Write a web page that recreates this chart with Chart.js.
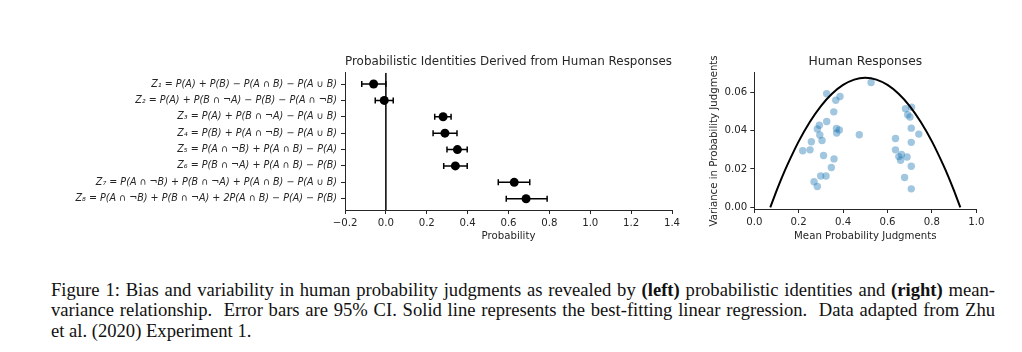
<!DOCTYPE html>
<html>
<head>
<meta charset="utf-8">
<script src="https://cdn.jsdelivr.net/npm/chart.js@4.4.1/dist/chart.umd.min.js"></script>
<style>
  body { margin: 0; background: #fff; width: 1022px; height: 352px; position: relative; overflow: hidden; }
  #left { position: absolute; left: 0; top: 0; }
  #right { position: absolute; left: 690px; top: 0; }
  .caption { position: absolute; left: 51px; top: 279.5px; width: 944px; font-family: "Liberation Serif", serif; font-size: 18.6px; line-height: 20.8px; color: #111; }
  .caption div { white-space: nowrap; }
  .caption .just { text-align: justify; text-align-last: justify; white-space: normal; }
</style>
</head>
<body>
<canvas id="left" width="690" height="246"></canvas>
<canvas id="right" width="332" height="246"></canvas>
<div class="caption">
  <div class="just">Figure 1: Bias and variability in human probability judgments as revealed by <b>(left)</b> probabilistic identities and <b>(right)</b> mean-</div>
  <div class="just">variance relationship. &nbsp;Error bars are 95% CI. Solid line represents the best-fitting linear regression. &nbsp;Data adapted from Zhu</div>
  <div>et al. (2020) Experiment 1.</div>
</div>
<script>
// identities (left panel)
const identityLabels = [
  'Z\u2081 = P(A) + P(B) \u2212 P(A \u2229 B) \u2212 P(A \u222A B)',
  'Z\u2082 = P(A) + P(B \u2229 \u00ACA) \u2212 P(B) \u2212 P(A \u2229 \u00ACB)',
  'Z\u2083 = P(A) + P(B \u2229 \u00ACA) \u2212 P(A \u222A B)',
  'Z\u2084 = P(B) + P(A \u2229 \u00ACB) \u2212 P(A \u222A B)',
  'Z\u2085 = P(A \u2229 \u00ACB) + P(A \u2229 B) \u2212 P(A)',
  'Z\u2086 = P(B \u2229 \u00ACA) + P(A \u2229 B) \u2212 P(B)',
  'Z\u2087 = P(A \u2229 \u00ACB) + P(B \u2229 \u00ACA) + P(A \u2229 B) \u2212 P(A \u222A B)',
  'Z\u2088 = P(A \u2229 \u00ACB) + P(B \u2229 \u00ACA) + 2P(A \u2229 B) \u2212 P(A) \u2212 P(B)'
];
const identityMeans = [-0.06, -0.008, 0.28, 0.289, 0.35, 0.34, 0.628, 0.686];
const ciLow = [-0.118, -0.052, 0.239, 0.231, 0.299, 0.283, 0.55, 0.589];
const ciHigh = [0.0, 0.036, 0.319, 0.348, 0.398, 0.398, 0.704, 0.789];
const probTicks = [-0.2, 0.0, 0.2, 0.4, 0.6, 0.8, 1.0, 1.2, 1.4];

// mean-variance (right panel)
const meanJudgments = [
  0.526, 0.326, 0.386, 0.367, 0.358, 0.326, 0.293, 0.284, 0.370, 0.383,
  0.371, 0.295, 0.305, 0.257, 0.218, 0.251, 0.312, 0.359, 0.347, 0.299,
  0.323, 0.269, 0.284, 0.473,
  0.681, 0.708, 0.691, 0.701, 0.707, 0.741, 0.707, 0.636, 0.636, 0.663,
  0.651, 0.659, 0.688, 0.707, 0.677, 0.707
];
const varianceJudgments = [
  0.0650, 0.0591, 0.0577, 0.0557, 0.0497, 0.0447, 0.0427, 0.0408, 0.0410, 0.0403,
  0.0387, 0.0376, 0.0348, 0.0341, 0.0294, 0.0299, 0.0270, 0.0252, 0.0207, 0.0163,
  0.0163, 0.0133, 0.0108, 0.0378,
  0.0513, 0.0521, 0.0482, 0.0470, 0.0412, 0.0381, 0.0338, 0.0358, 0.0299, 0.0275,
  0.0264, 0.0245, 0.0262, 0.0214, 0.0155, 0.0096
];
const fitMeans = [0.072, 0.1, 0.125, 0.15, 0.2, 0.25, 0.3, 0.35, 0.4, 0.45, 0.5,
  0.55, 0.6, 0.65, 0.7, 0.75, 0.8, 0.85, 0.875, 0.9, 0.928];
const fitVariances = [0.0, 0.0085, 0.0157, 0.0223, 0.0343, 0.0444, 0.0527, 0.0591, 0.0637, 0.0665, 0.0674,
  0.0665, 0.0637, 0.0591, 0.0527, 0.0444, 0.0343, 0.0223, 0.0157, 0.0085, 0.0];
const meanTicks = [0.0, 0.2, 0.4, 0.6, 0.8, 1.0];
const varTicks = [0.00, 0.02, 0.04, 0.06];

const ink = '#262626';
const fam = '"DejaVu Sans", sans-serif';
const minus = s => s.replace('-', '\u2212');

function axisStyle() {
  return {
    grid: { display: true, drawOnChartArea: false, drawTicks: true, tickLength: 4, color: ink, lineWidth: 1 },
    border: { display: true, color: ink, width: 1 }
  };
}

// error bars: one little dataset per row
const errorSets = identityMeans.map((m, i) => ({
  data: [{ x: ciLow[i], y: i }, { x: ciHigh[i], y: i }],
  showLine: true,
  borderColor: '#000',
  borderWidth: 1.5,
  pointStyle: 'line',
  pointRotation: 90,
  pointRadius: 3,
  pointBorderColor: '#000',
  pointBorderWidth: 1.5
}));

new Chart(document.getElementById('left'), {
  type: 'scatter',
  data: {
    datasets: [
      {
        data: identityMeans.map((m, i) => ({ x: m, y: i })),
        backgroundColor: '#000',
        borderColor: '#000',
        pointRadius: 4.5,
        pointBorderWidth: 0
      },
      ...errorSets,
      {
        data: [{ x: 0, y: -0.69 }, { x: 0, y: 7.69 }],
        showLine: true,
        borderColor: '#000',
        borderWidth: 1.5,
        pointRadius: 0
      }
    ]
  },
  options: {
    responsive: false,
    animation: false,
    devicePixelRatio: 1,
    layout: { padding: { top: 54.5, right: 18, bottom: 0, left: 0 } },
    plugins: {
      legend: { display: false },
      tooltip: { enabled: false },
      title: {
        display: true,
        fullSize: false,
        text: 'Probabilistic Identities Derived from Human Responses',
        color: ink,
        font: { family: fam, size: 12.2, weight: 'normal' },
        padding: { top: 0, bottom: 3.6 }
      }
    },
    scales: {
      x: {
        type: 'linear',
        min: -0.2,
        max: 1.4,
        ...axisStyle(),
        afterBuildTicks: s => { s.ticks = probTicks.map(v => ({ value: v })); },
        afterFit: s => { s.height = 36; },
        ticks: {
          color: ink, padding: 3, maxRotation: 0,
          font: { family: fam, size: 10.2 },
          callback: v => minus(v.toFixed(1))
        },
        title: { display: true, text: 'Probability', color: ink, font: { family: fam, size: 10.2 }, padding: { top: 2, bottom: 4 } }
      },
      y: {
        type: 'linear',
        reverse: true,
        min: -0.69,
        max: 7.69,
        ...axisStyle(),
        afterBuildTicks: s => { s.ticks = identityLabels.map((l, i) => ({ value: i })); },
        afterFit: s => { s.width = 345; },
        ticks: {
          color: ink, padding: 4,
          font: { family: fam, size: 9.6, style: 'italic' },
          callback: v => identityLabels[Math.round(v)]
        }
      }
    }
  }
});

new Chart(document.getElementById('right'), {
  type: 'scatter',
  data: {
    datasets: [
      {
        data: fitMeans.map((x, i) => ({ x: x, y: fitVariances[i] })),
        showLine: true,
        borderColor: '#000',
        borderWidth: 2,
        pointRadius: 0,
        cubicInterpolationMode: 'monotone'
      },
      {
        data: meanJudgments.map((x, i) => ({ x: x, y: varianceJudgments[i] })),
        backgroundColor: 'rgba(31,119,180,0.42)',
        pointRadius: 3.7,
        pointBorderWidth: 0
      }
    ]
  },
  options: {
    responsive: false,
    animation: false,
    devicePixelRatio: 1,
    layout: { padding: { top: 54.5, right: 45.7, bottom: 0, left: 14 } },
    plugins: {
      legend: { display: false },
      tooltip: { enabled: false },
      title: {
        display: true,
        fullSize: false,
        text: 'Human Responses',
        color: ink,
        font: { family: fam, size: 12.3, weight: 'normal' },
        padding: { top: 0, bottom: 3.6 }
      }
    },
    scales: {
      x: {
        type: 'linear',
        min: 0,
        max: 1,
        ...axisStyle(),
        afterBuildTicks: s => { s.ticks = meanTicks.map(v => ({ value: v })); },
        afterFit: s => { s.height = 37; },
        ticks: {
          color: ink, padding: 3, maxRotation: 0,
          font: { family: fam, size: 10.2 },
          callback: v => v.toFixed(1)
        },
        title: { display: true, text: 'Mean Probability Judgments', color: ink, font: { family: fam, size: 10.2 }, padding: { top: 2, bottom: 4 } }
      },
      y: {
        type: 'linear',
        min: -0.0009,
        max: 0.07,
        ...axisStyle(),
        afterBuildTicks: s => { s.ticks = varTicks.map(v => ({ value: v })); },
        afterFit: s => { s.width = 50.3; },
        ticks: {
          color: ink, padding: 3,
          font: { family: fam, size: 10.2 },
          callback: v => v.toFixed(2)
        },
        title: { display: true, text: 'Variance in Probability Judgments', color: ink, font: { family: fam, size: 10.2 }, padding: { top: 4, bottom: 2 } }
      }
    }
  }
});
</script>
</body>
</html>
